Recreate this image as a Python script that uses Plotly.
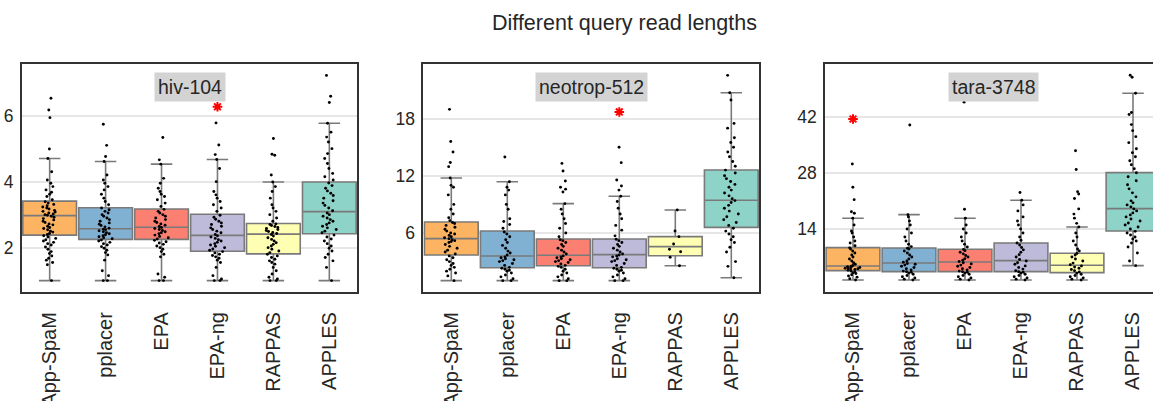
import plotly.graph_objects as go

# ---------------- data ----------------
methods = ["App-SpaM", "pplacer", "EPA", "EPA-ng", "RAPPAS", "APPLES"]
datasets = ["hiv-104", "neotrop-512", "tara-3748"]
colors = ["#fdb462", "#80b1d3", "#fb8072", "#bebada", "#ffffb3", "#8dd3c7"]
title_text = "Different query read lengths"

# box statistics (per method)
hiv_q1 = [2.38, 2.25, 2.25, 1.89, 1.81, 2.42]
hiv_med = [2.97, 2.57, 2.62, 2.37, 2.41, 3.09]
hiv_q3 = [3.41, 3.21, 3.17, 3.01, 2.73, 3.99]
hiv_lo = [1.0, 1.0, 1.0, 1.0, 1.0, 1.0]
hiv_hi = [4.70, 4.61, 4.53, 4.67, 3.99, 5.77]

neo_q1 = [3.69, 2.36, 2.57, 2.36, 3.62, 6.59]
neo_med = [5.41, 3.59, 3.66, 3.73, 4.57, 9.43]
neo_q3 = [7.15, 6.21, 5.37, 5.37, 5.62, 12.61]
neo_lo = [1.0, 1.0, 1.0, 1.0, 2.57, 1.31]
neo_hi = [11.77, 11.38, 9.08, 9.85, 8.41, 20.72]

tara_q1 = [3.62, 3.37, 3.37, 3.37, 3.12, 13.5]
tara_med = [4.78, 5.53, 5.78, 6.11, 4.95, 19.07]
tara_q3 = [9.35, 9.27, 8.93, 10.51, 7.94, 28.04]
tara_lo = [1.29, 1.29, 1.29, 1.29, 1.29, 4.86]
tara_hi = [16.66, 17.57, 16.66, 21.14, 14.5, 47.8]

# individual points (strip)
hiv_appspam = [1.0, 1.48, 1.55, 1.62, 1.68, 1.75, 1.82, 1.88, 1.95, 2.02, 2.08, 2.12, 2.16, 2.2, 2.24, 2.28,
               2.32, 2.36, 2.4, 2.43, 2.47, 2.5, 2.54, 2.58, 2.61, 2.65, 2.69, 2.72, 2.76, 2.8, 2.84, 2.88,
               2.92, 2.95, 2.98, 3.0, 3.02, 3.05, 3.08, 3.1, 3.13, 3.17, 3.2, 3.23, 3.27, 3.31, 3.35, 3.39,
               3.45, 3.55, 3.62, 3.68, 3.75, 3.85, 3.95, 4.05, 4.3, 4.7, 4.99, 5.94, 6.17, 6.53]
hiv_pplacer = [1.0, 1.0, 1.15, 1.3, 1.62, 1.78, 1.85, 1.92, 1.98, 2.03, 2.08, 2.12, 2.16, 2.2, 2.23, 2.27,
               2.3, 2.33, 2.36, 2.39, 2.42, 2.45, 2.48, 2.51, 2.54, 2.56, 2.59, 2.63, 2.67, 2.71, 2.75, 2.8,
               2.85, 2.9, 2.95, 3.0, 3.05, 3.1, 3.15, 3.2, 3.3, 3.4, 3.5, 3.62, 3.75, 3.85, 3.95, 4.05, 4.2,
               4.61, 4.76, 5.10, 5.74]
hiv_epa = [1.0, 1.0, 1.1, 1.2, 1.72, 1.8, 1.88, 1.95, 2.0, 2.05, 2.1, 2.14, 2.18, 2.22, 2.26, 2.3, 2.34,
           2.38, 2.42, 2.45, 2.48, 2.52, 2.55, 2.58, 2.61, 2.64, 2.68, 2.72, 2.76, 2.8, 2.85, 2.9, 2.95, 3.0,
           3.05, 3.1, 3.16, 3.25, 3.35, 3.45, 3.55, 3.62, 3.7, 3.8, 3.95, 4.1, 4.53, 4.66, 5.34]
hiv_epang = [1.0, 1.0, 1.05, 1.15, 1.4, 1.55, 1.62, 1.68, 1.72, 1.76, 1.8, 1.84, 1.88, 1.92, 1.96, 2.0,
             2.04, 2.08, 2.12, 2.16, 2.2, 2.24, 2.28, 2.32, 2.36, 2.4, 2.45, 2.5, 2.55, 2.6, 2.65, 2.7, 2.75,
             2.8, 2.86, 2.92, 2.98, 3.1, 3.2, 3.3, 3.4, 3.5, 3.6, 3.7, 4.0, 4.4, 4.67, 4.82, 5.11, 5.78]
hiv_rappas = [1.0, 1.0, 1.05, 1.1, 1.2, 1.3, 1.4, 1.5, 1.55, 1.6, 1.65, 1.7, 1.75, 1.8, 1.85, 1.9, 1.95,
              2.0, 2.05, 2.1, 2.15, 2.2, 2.25, 2.3, 2.35, 2.4, 2.43, 2.46, 2.49, 2.52, 2.55, 2.58, 2.61, 2.64,
              2.67, 2.7, 2.72, 2.8, 2.9, 3.0, 3.1, 3.2, 3.3, 3.5, 3.7, 3.85, 3.99, 4.2, 4.80, 4.83, 5.31]
hiv_apples = [1.0, 1.4, 1.6, 1.7, 1.8, 1.9, 1.98, 2.05, 2.12, 2.2, 2.26, 2.32, 2.38, 2.45, 2.5, 2.55, 2.6,
              2.65, 2.7, 2.75, 2.8, 2.85, 2.9, 2.95, 3.0, 3.05, 3.12, 3.2, 3.28, 3.35, 3.42, 3.5, 3.58, 3.65,
              3.72, 3.8, 3.88, 3.96, 4.05, 4.15, 4.25, 4.4, 4.55, 4.7, 4.85, 5.0, 5.2, 5.35, 5.5, 5.77, 6.40,
              6.59, 7.22]

neo_appspam = [1.0, 1.5, 1.8, 2.0, 2.2, 2.4, 2.6, 2.8, 3.0, 3.2, 3.4, 3.6, 3.8, 4.0, 4.2, 4.4, 4.6, 4.8,
               5.0, 5.1, 5.2, 5.3, 5.4, 5.5, 5.6, 5.75, 5.9, 6.0, 6.2, 6.4, 6.6, 6.8, 7.0, 7.1, 7.3, 7.6, 8.0,
               8.5, 9.0, 10.0, 10.8, 11.0, 11.77, 12.96, 13.4, 14.5, 15.6, 18.97]
neo_pplacer = [1.0, 1.0, 1.2, 1.4, 1.6, 1.8, 2.0, 2.1, 2.2, 2.3, 2.4, 2.6, 2.8, 3.0, 3.1, 3.2, 3.3, 3.4,
               3.5, 3.7, 3.9, 4.1, 4.4, 4.7, 5.0, 5.3, 5.6, 5.9, 6.1, 6.5, 6.9, 7.2, 7.5, 8.5, 9.0, 10.0, 10.5,
               10.8, 11.38, 13.97]
neo_epa = [1.0, 1.0, 1.2, 1.4, 1.6, 1.8, 2.0, 2.2, 2.4, 2.5, 2.6, 2.75, 2.9, 3.0, 3.1, 3.2, 3.3, 3.4, 3.5,
           3.6, 3.8, 4.0, 4.2, 4.4, 4.6, 4.8, 5.0, 5.2, 5.3, 5.6, 6.0, 6.5, 7.0, 7.5, 8.0, 8.5, 9.08, 10.3,
           10.6, 10.8, 11.45, 12.5, 13.3]
neo_epang = [1.0, 1.0, 1.2, 1.4, 1.6, 1.8, 2.0, 2.1, 2.2, 2.3, 2.4, 2.6, 2.8, 3.0, 3.1, 3.2, 3.3, 3.5, 3.6,
             3.7, 3.8, 4.0, 4.2, 4.4, 4.6, 4.8, 5.0, 5.2, 5.35, 5.7, 6.3, 6.8, 7.5, 8.0, 8.6, 9.3, 9.85, 10.5,
             10.93, 11.56, 13.38, 14.99]
neo_rappas = [2.57, 3.45, 4.04, 4.29, 4.85, 5.62, 6.21, 8.41]
neo_apples = [1.31, 2.5, 3.0, 4.0, 4.5, 5.0, 5.3, 5.6, 5.9, 6.2, 6.5, 6.8, 7.1, 7.4, 7.7, 8.0, 8.3, 8.6,
              8.9, 9.2, 9.4, 9.6, 9.9, 10.2, 10.5, 10.8, 11.1, 11.4, 11.7, 12.0, 12.3, 12.6, 13.0, 13.5, 14.0,
              14.5, 15.0, 15.5, 16.0, 17.0, 17.5, 19.95, 20.72, 22.54]

tara_appspam = [1.29, 1.6, 2.0, 2.3, 2.6, 2.9, 3.1, 3.3, 3.5, 3.7, 3.9, 4.0, 4.1, 4.2, 4.3, 4.4, 4.5, 4.6,
                4.7, 4.9, 5.2, 5.6, 6.0, 6.5, 7.0, 7.5, 8.0, 8.5, 9.0, 9.3, 9.8, 10.5, 11.0, 12.0, 13.0, 13.5,
                15.0, 16.66, 17.9, 18.3, 21.3, 24.4, 30.2]
tara_pplacer = [1.29, 1.5, 1.8, 2.1, 2.4, 2.7, 3.0, 3.2, 3.35, 3.5, 3.8, 4.1, 4.4, 4.7, 5.0, 5.2, 5.4, 5.7,
                6.0, 6.5, 7.0, 7.5, 8.0, 8.5, 9.0, 9.2, 9.6, 10.2, 11.0, 12.0, 13.0, 14.0, 15.0, 16.0, 17.0,
                17.57, 39.9]
tara_epa = [1.29, 1.5, 1.8, 2.1, 2.4, 2.7, 3.0, 3.2, 3.35, 3.5, 3.8, 4.1, 4.4, 4.7, 5.0, 5.3, 5.6, 5.9, 6.2,
            6.6, 7.0, 7.4, 7.8, 8.2, 8.6, 8.9, 9.5, 10.2, 11.0, 12.0, 13.0, 14.0, 15.0, 16.66, 18.9, 45.6]
tara_epang = [1.29, 1.5, 1.8, 2.1, 2.4, 2.7, 3.0, 3.2, 3.35, 3.6, 4.0, 4.4, 4.8, 5.2, 5.6, 6.0, 6.4, 7.0,
              7.6, 8.2, 8.8, 9.4, 10.0, 10.5, 11.2, 12.0, 13.0, 14.0, 15.0, 16.0, 17.0, 18.5, 20.0, 21.14, 23.1]
tara_rappas = [1.29, 1.5, 1.8, 2.1, 2.4, 2.7, 3.0, 3.3, 3.6, 3.9, 4.2, 4.5, 4.8, 5.1, 5.5, 6.0, 6.5, 7.0,
               7.5, 7.9, 8.5, 9.0, 10.0, 11.0, 12.0, 13.0, 14.5, 15.4, 16.7, 17.7, 19.0, 21.6, 22.7, 23.3,
               28.8, 33.5]
tara_apples = [4.86, 6.0, 8.0, 9.5, 10.5, 11.0, 11.5, 12.0, 12.5, 13.0, 13.4, 14.0, 14.5, 15.0, 15.5, 16.0,
               16.5, 17.0, 17.5, 18.0, 18.5, 19.0, 19.5, 20.0, 20.5, 21.0, 22.0, 23.0, 24.0, 25.0, 26.0, 27.0,
               28.0, 29.0, 30.0, 31.0, 32.0, 33.0, 34.0, 35.5, 37.0, 38.5, 40.0, 42.5, 43.0, 47.8, 51.8, 52.3]

# significance markers (dataset, method, value)
sig_dataset = ["hiv-104", "neotrop-512", "tara-3748"]
sig_method = ["EPA-ng", "EPA-ng", "App-SpaM"]
sig_value = [6.27, 18.7, 41.4]

# y tick values per panel
hiv_ticks = [2, 4, 6]
neo_ticks = [6, 12, 18]
tara_ticks = [14, 28, 42]

stats = {
    "hiv-104": (hiv_q1, hiv_med, hiv_q3, hiv_lo, hiv_hi),
    "neotrop-512": (neo_q1, neo_med, neo_q3, neo_lo, neo_hi),
    "tara-3748": (tara_q1, tara_med, tara_q3, tara_lo, tara_hi),
}
points = {
    "hiv-104": [hiv_appspam, hiv_pplacer, hiv_epa, hiv_epang, hiv_rappas, hiv_apples],
    "neotrop-512": [neo_appspam, neo_pplacer, neo_epa, neo_epang, neo_rappas, neo_apples],
    "tara-3748": [tara_appspam, tara_pplacer, tara_epa, tara_epang, tara_rappas, tara_apples],
}
ticks = {"hiv-104": hiv_ticks, "neotrop-512": neo_ticks, "tara-3748": tara_ticks}

# ---------------- layout geometry ----------------
W, H = 1153, 401
FONT = "Liberation Sans, Arial, sans-serif"
TXT = "#262626"
panel_px = [(21.7, 357.3), (423.3, 759.3), (825.0, 1161.0)]  # full panel extents (last one cut by page)
y_dom = [1 - 292.3 / H, 1 - 64.0 / H]
y_ranges = {"hiv-104": [0.646, 7.566], "neotrop-512": [-0.22, 23.73], "tara-3748": [-1.78, 55.1]}

fig = go.Figure()
layout = dict(
    width=W, height=H, margin=dict(l=0, r=0, t=0, b=0, autoexpand=False),
    paper_bgcolor="white", plot_bgcolor="white", showlegend=False,
    boxmode="overlay", font=dict(family=FONT, color=TXT),
)
annotations = []

for k, ds in enumerate(datasets):
    sfx = "" if k == 0 else str(k + 1)
    xa, ya = "x" + sfx, "y" + sfx
    q1, med, q3, lo, hi = stats[ds]
    # boxes
    for i, m in enumerate(methods):
        fig.add_trace(go.Box(
            x=[m], q1=[q1[i]], median=[med[i]], q3=[q3[i]],
            lowerfence=[lo[i]], upperfence=[hi[i]],
            boxpoints=False, width=0.96, whiskerwidth=0.4,
            fillcolor=colors[i], line=dict(color="#7a7a7a", width=1.6),
            xaxis=xa, yaxis=ya, hoverinfo="skip",
        ))
    # strip points
    for i, m in enumerate(methods):
        vals = points[ds][i]
        fig.add_trace(go.Box(
            x=[m] * len(vals), y=vals, boxpoints="all", jitter=0.3, pointpos=0,
            width=0.96, fillcolor="rgba(0,0,0,0)",
            line=dict(color="rgba(0,0,0,0)", width=0),
            marker=dict(color="black", size=2.9),
            xaxis=xa, yaxis=ya, hoverinfo="skip",
        ))
    # significance asterisks
    sx = [sig_method[j] for j in range(len(sig_dataset)) if sig_dataset[j] == ds]
    sy = [sig_value[j] for j in range(len(sig_dataset)) if sig_dataset[j] == ds]
    fig.add_trace(go.Scatter(
        x=sx, y=sy, mode="markers", xaxis=xa, yaxis=ya, hoverinfo="skip",
        marker=dict(symbol="asterisk-open", size=8, color="red", line=dict(color="red", width=2)),
    ))

    x0, x1 = panel_px[k]
    vis1 = min(x1, W)
    frac = (vis1 - x0) / (x1 - x0)
    xr = [-0.5, -0.5 + 6 * frac]
    layout["xaxis" + sfx] = dict(
        domain=[x0 / W, vis1 / W], anchor=ya, type="category", automargin=False,
        categoryorder="array", categoryarray=methods, range=xr,
        showline=True, linecolor="#333333", linewidth=1.6, mirror=True,
        showgrid=False, zeroline=False, ticks="", tickangle=-90,
        ticklabelstandoff=10, tickfont=dict(size=20, family=FONT, color=TXT),
    )
    layout["yaxis" + sfx] = dict(
        domain=y_dom, anchor=xa, range=y_ranges[ds], automargin=False,
        tickvals=ticks[ds], ticktext=[str(t) for t in ticks[ds]],
        showline=True, linecolor="#333333", linewidth=1.6, mirror=(k < 2),
        showgrid=True, gridcolor="#e6e6e6", gridwidth=1.5, zeroline=False,
        ticks="", ticklabelstandoff=3, tickfont=dict(size=17.5, family=FONT, color=TXT),
    )
    annotations.append(dict(
        text=ds, xref="paper", yref="paper", x=((x0 + x1) / 2) / W, y=1 - 87.3 / H,
        xanchor="center", yanchor="middle", showarrow=False,
        bgcolor="#d3d3d3", borderpad=3, font=dict(size=19.5, family=FONT, color=TXT),
    ))

annotations.append(dict(
    text=title_text, xref="paper", yref="paper", x=624 / W, y=1 - 23 / H,
    xanchor="center", yanchor="middle", showarrow=False,
    font=dict(size=21.5, family=FONT, color=TXT),
))
layout["annotations"] = annotations
fig.update_layout(**layout)
fig.write_html(
    "out.html",
    config={"displayModeBar": False},
    post_script="document.body.style.margin='0px';document.body.style.overflow='hidden';",
)
